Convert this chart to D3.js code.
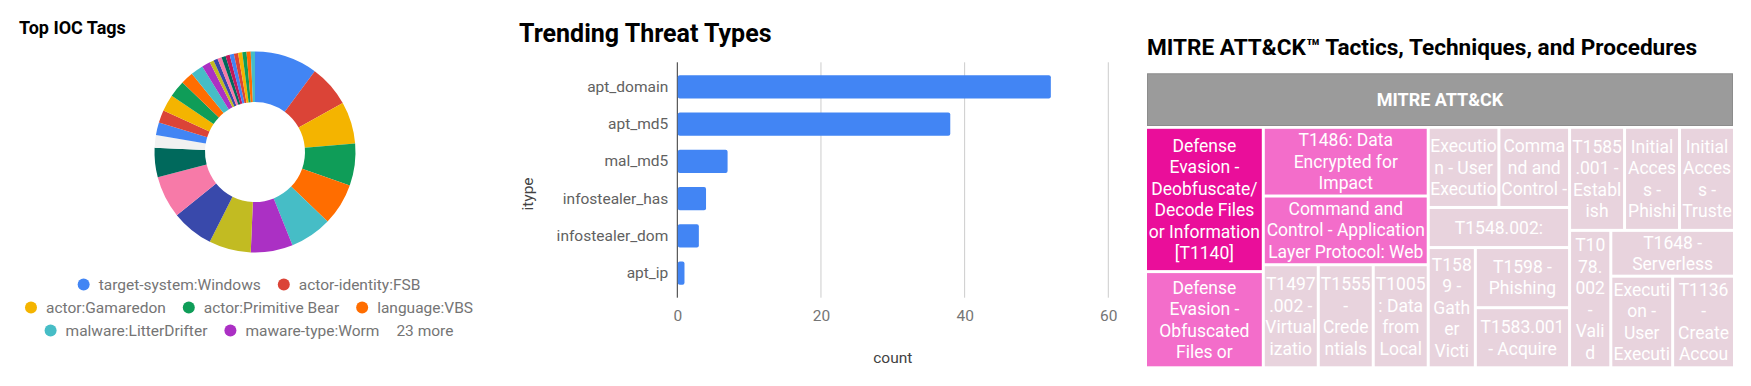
<!DOCTYPE html>
<html>
<head>
<meta charset="utf-8">
<style>
  body { margin: 0; background: #fff; }
  svg text { font-family: Roboto, sans-serif; }
</style>
</head>
<body>
<svg id="board" width="1751" height="386"></svg>
<script src="https://d3js.org/d3.v7.min.js"></script>
<script>
// ---- Top IOC Tags (only the first 7 names are visible in the legend) ----
var tagNames = ["target-system:Windows", "actor-identity:FSB", "actor:Gamaredon", "actor:Primitive Bear",
  "language:VBS", "malware:LitterDrifter", "maware-type:Worm", "tag-08", "tag-09", "tag-10", "tag-11",
  "null", "tag-13", "tag-14", "tag-15", "tag-16", "tag-17", "tag-18", "tag-19", "tag-20", "tag-21",
  "tag-22", "tag-23", "tag-24", "tag-25", "tag-26", "tag-27", "tag-28", "tag-29", "tag-30"];
var tagCounts = [15, 10, 10, 10, 10, 10, 10, 10, 10, 10, 7, 3, 3, 3, 4, 4, 3, 3, 2, 1, 1, 1, 1, 1, 1, 1, 1, 1, 1, 1];
var tagPalette = ["#4285f4", "#db4437", "#f4b400", "#0f9d58", "#ff6d00", "#46bdc6", "#ab30c4",
  "#c2bb22", "#3949ab", "#f77aa8", "#00695c", "#c2185b"];

// ---- Trending Threat Types ----
var threatTypes = ["apt_domain", "apt_md5", "mal_md5", "infostealer_has", "infostealer_dom", "apt_ip"];
var threatCounts = [52, 38, 7, 4, 3, 1];
var countTicks = [0, 20, 40, 60];

// ---- MITRE ATT&CK treemap ----
var ttpNames = [
  "Defense Evasion - Deobfuscate/Decode Files or Information [T1140]",
  "Defense Evasion - Obfuscated Files or Information [T1027]",
  "T1486: Data Encrypted for Impact",
  "Command and Control - Application Layer Protocol: Web Protocols [T1071.001]",
  "T1497.002 - Virtualization/Sandbox Evasion: User Activity Based Checks",
  "T1555 - Credentials from Password Stores",
  "T1005: Data from Local System",
  "Execution - User Execution: Malicious File [T1204.002]",
  "Command and Control - Ingress Tool Transfer [T1105]",
  "T1548.002: Bypass User Account Control",
  "T1589 - Gather Victim Identity Information",
  "T1598 - Phishing for Information",
  "T1583.001 - Acquire Infrastructure: Domains",
  "T1585.001 - Establish Accounts: Social Media Accounts",
  "Initial Access - Phishing: Spearphishing Attachment [T1566.001]",
  "Initial Access - Trusted Relationship [T1199]",
  "T1078.002 - Valid Accounts: Domain Accounts",
  "T1648 - Serverless Execution",
  "Execution - User Execution: Malicious Link [T1204.001]",
  "T1136 - Create Account"];
var ttpCounts = [3, 2, 2, 2, 1, 1, 1, 1, 1, 1, 1, 1, 1, 1, 1, 1, 1, 1, 1, 1];
// grouping used to nest the cells the way the original layout does
var ttpGroups = ["a", "a", "b", "b", "b/c", "b/c", "b/c", "d/e", "d/e", "d", "d/f", "d/f/g", "d/f/g",
  "h/i", "h/i", "h/i", "h/j", "h/j/k", "h/j/k/l", "h/j/k/l"];

var svg = d3.select('#board');

// measure helper
var probe = svg.append('text').attr('x', -1000).attr('y', -1000);
function textWidth(str, size, weight) {
  probe.attr('font-size', size).attr('font-weight', weight || 400).text(str);
  return probe.node().getComputedTextLength();
}

// ================= Pie =================
svg.append('text').attr('x', 19).attr('y', 34)
  .attr('font-size', 18).attr('font-weight', 700).attr('fill', '#000')
  .text('Top IOC Tags');

var tags = tagNames.map(function(n, i) { return {name: n, count: tagCounts[i], i: i}; });
function tagColor(d) { return d.name === 'null' ? '#f1f1f1' : tagPalette[d.i % tagPalette.length]; }

var pie = d3.pie().sort(null).value(function(d) { return d.count; });
var arc = d3.arc().innerRadius(50).outerRadius(100.5);
var pieG = svg.append('g').attr('transform', 'translate(255,152)');
pieG.selectAll('path')
  .data(pie(tags))
  .enter().append('path')
  .attr('d', arc)
  .attr('fill', function(d) { return tagColor(d.data); });

// legend
var legendShown = 7, legendMaxW = 470, legendCx = 249, legendY0 = 284.5, legendLineH = 23, legendGap = 17;
var legendFont = 15.5;
var legendItems = tags.slice(0, legendShown).map(function(d) {
  return {label: d.name, color: tagColor(d), w: 21 + textWidth(d.name, legendFont)};
});
var moreText = (tags.length - legendShown) + ' more';
legendItems.push({label: moreText, color: null, w: textWidth(moreText, legendFont)});

var rows = [[]], rowW = [0];
legendItems.forEach(function(it) {
  var r = rows.length - 1;
  var nw = rowW[r] + (rows[r].length ? legendGap : 0) + it.w;
  if (rows[r].length && nw > legendMaxW) { rows.push([it]); rowW.push(it.w); }
  else { rows[r].push(it); rowW[r] = nw; }
});
rows.forEach(function(row, ri) {
  var x = legendCx - rowW[ri] / 2, y = legendY0 + ri * legendLineH;
  row.forEach(function(it) {
    var g = svg.append('g').attr('transform', 'translate(' + x + ',' + y + ')');
    if (it.color) {
      g.append('circle').attr('cx', 6).attr('cy', 0).attr('r', 6).attr('fill', it.color);
    }
    g.append('text').attr('x', it.color ? 21 : 0).attr('y', 0).attr('dy', '0.35em')
      .attr('font-size', legendFont).attr('fill', '#757575').text(it.label);
    x += it.w + legendGap;
  });
});

// ================= Bar chart =================
svg.append('text').attr('x', 519).attr('y', 42)
  .attr('font-size', 25).attr('font-weight', 700).attr('fill', '#000')
  .text('Trending Threat Types');

var x = d3.scaleLinear().domain([0, 60]).range([677.3, 1108.3]);
var y = d3.scaleBand().domain(threatTypes).range([62.3, 297.7]).paddingInner(0.38).paddingOuter(0.35);

var grid = svg.append('g');
grid.selectAll('line')
  .data(countTicks)
  .enter().append('line')
  .attr('x1', function(d) { return x(d); }).attr('x2', function(d) { return x(d); })
  .attr('y1', 62.3).attr('y2', 297.7)
  .attr('stroke', function(d) { return d === 0 ? '#333' : '#cccccc'; })
  .attr('stroke-width', 1);

svg.append('g').selectAll('rect')
  .data(threatTypes)
  .enter().append('rect')
  .attr('x', x(0) + 0.5)
  .attr('y', function(d) { return y(d); })
  .attr('width', function(d, i) { return x(threatCounts[i]) - x(0) - 0.5; })
  .attr('height', y.bandwidth())
  .attr('rx', 2)
  .attr('fill', '#4285f4');

var yAxis = svg.append('g').attr('transform', 'translate(677.3,0)')
  .call(d3.axisLeft(y).tickSize(0).tickPadding(9));
yAxis.select('.domain').remove();
yAxis.selectAll('text').attr('font-size', 15.5).attr('fill', '#616161').style('font-family', 'Roboto, sans-serif');

var xAxis = svg.append('g').attr('transform', 'translate(0,297.7)')
  .call(d3.axisBottom(x).tickValues(countTicks).tickSize(0).tickPadding(12));
xAxis.select('.domain').remove();
xAxis.selectAll('text').attr('font-size', 15.5).attr('fill', '#757575').style('font-family', 'Roboto, sans-serif');

svg.append('text').attr('x', (x.range()[0] + x.range()[1]) / 2).attr('y', 358).attr('dy', '0.35em')
  .attr('text-anchor', 'middle').attr('font-size', 15.5).attr('fill', '#424242').text('count');
svg.append('text').attr('transform', 'translate(528,194) rotate(-90)').attr('dy', '0.35em')
  .attr('text-anchor', 'middle').attr('font-size', 15.5).attr('fill', '#424242').text('itype');

// ================= Treemap =================
svg.append('text').attr('x', 1147).attr('y', 55)
  .attr('font-size', 22.6).attr('font-weight', 700).attr('fill', '#000')
  .text('MITRE ATT\u0026CK\u2122 Tactics, Techniques, and Procedures');

var ttpRoot = {name: 'MITRE ATT&CK', children: []};
ttpNames.forEach(function(n, i) {
  var node = ttpRoot;
  ttpGroups[i].split('/').forEach(function(g) {
    var next = node.children.find(function(c) { return c.group === g; });
    if (!next) { next = {group: g, children: []}; node.children.push(next); }
    node = next;
  });
  node.children.push({name: n, value: ttpCounts[i]});
});

function tileByShape(node, x0, y0, x1, y1) {
  (x1 - x0 > y1 - y0 ? d3.treemapDice : d3.treemapSlice)(node, x0, y0, x1, y1);
}

var headerH = 52.7;
var root = d3.hierarchy(ttpRoot).sum(function(d) { return d.value || 0; });
d3.treemap().size([586, 293])
  .paddingTop(function(d) { return d.depth === 0 ? 55.5 : 0; })
  .paddingInner(3)
  .tile(tileByShape)(root);

var tm = svg.append('g').attr('transform', 'translate(1147,73.3)');
tm.append('rect').attr('x', root.x0 + 0.5).attr('y', 0.5)
  .attr('width', root.x1 - root.x0 - 1).attr('height', headerH - 1)
  .attr('fill', '#9b9b9b').attr('stroke', '#8c8c8c');
tm.append('text').attr('x', (root.x0 + root.x1) / 2).attr('y', headerH / 2).attr('dy', '0.35em')
  .attr('text-anchor', 'middle').attr('font-size', 18).attr('font-weight', 700).attr('fill', '#fff')
  .text(root.data.name);

var ttpColor = d3.scaleLinear().domain([1, 2, 3]).range(['#e8d3dd', '#f36dca', '#ea0e9a']);
var cellFont = 17.5, cellLineH = 21.5;

// break opportunities: spaces, and after "/" or "."
function wrapLines(str, maxW) {
  var tokens = [];
  str.split(' ').forEach(function(w, wi) {
    w.split(/(?<=[\/.])/).forEach(function(p, pi) { tokens.push({t: p, sp: wi > 0 && pi === 0}); });
  });
  var lines = [], cur = '';
  tokens.forEach(function(tok) {
    var word = tok.t;
    var cand = cur ? cur + (tok.sp ? ' ' : '') + word : word;
    if (textWidth(cand, cellFont) <= maxW) { cur = cand; return; }
    if (cur) { lines.push(cur); cur = ''; }
    while (word.length > 1 && textWidth(word, cellFont) > maxW) {
      var k = word.length - 1;
      while (k > 1 && textWidth(word.slice(0, k), cellFont) > maxW) k--;
      lines.push(word.slice(0, k));
      word = word.slice(k);
    }
    cur = word;
  });
  if (cur) lines.push(cur);
  return lines;
}

var cells = tm.selectAll('g.cell')
  .data(root.leaves())
  .enter().append('g').attr('class', 'cell');
cells.append('rect')
  .attr('x', function(d) { return d.x0; }).attr('y', function(d) { return d.y0; })
  .attr('width', function(d) { return d.x1 - d.x0; }).attr('height', function(d) { return d.y1 - d.y0; })
  .attr('fill', function(d) { return ttpColor(d.value); });
cells.each(function(d) {
  var w = d.x1 - d.x0, h = d.y1 - d.y0;
  var lines = wrapLines(d.data.name, w);
  var n = Math.min(lines.length, Math.max(1, Math.floor((h + 4) / cellLineH)));
  var cx = (d.x0 + d.x1) / 2, cy = (d.y0 + d.y1) / 2;
  var t = d3.select(this).append('text')
    .attr('text-anchor', 'middle').attr('font-size', cellFont).attr('fill', '#fff');
  lines.slice(0, n).forEach(function(l, i) {
    t.append('tspan').attr('x', cx).attr('y', cy + (i - (n - 1) / 2) * cellLineH).attr('dy', '0.35em').text(l);
  });
});

probe.remove();
</script>
</body>
</html>
